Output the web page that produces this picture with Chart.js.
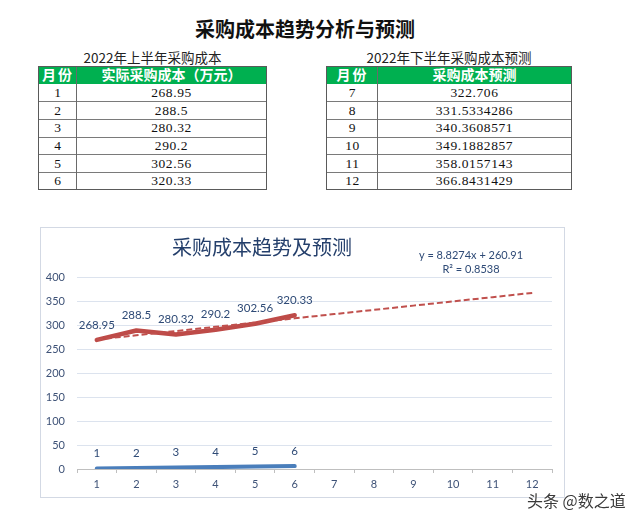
<!DOCTYPE html>
<html>
<head>
<meta charset="utf-8">
<script src="https://cdn.jsdelivr.net/npm/chart.js@4.4.0/dist/chart.umd.min.js"></script>
<style>
  html, body { margin:0; padding:0; background:#fff; }
  body { width:640px; height:523px; position:relative; overflow:hidden; font-family:"Noto Sans CJK SC", sans-serif; }
  .abs { position:absolute; }
  .title { left:0; width:610px; top:15px; height:28px; line-height:28px; text-align:center; font-size:20px; font-weight:700; color:#111; }
  .cap { height:16px; line-height:16px; text-align:center; font-size:13.5px; color:#222; }
  .tbl { box-sizing:border-box; border:1px solid #5a5a5a; }
  .hdr { left:0; right:0; top:0; background:#00B050; }
  .hline { left:0; right:0; height:1px; background:#7a7a7a; }
  .vline { width:1px; top:0; bottom:0; background:#6a6a6a; }
  .cell { text-align:center; font-family:"Liberation Serif", serif; font-size:13.5px; letter-spacing:0.6px; color:#111; }
  .hcell { text-align:center; font-size:14px; font-weight:700; color:#fff; }
  #chartBox { left:40px; top:227px; width:525px; height:271px; box-sizing:border-box; border:1px solid #D3D9E4; }
  .wm { left:527px; top:488px; font-size:16px; color:#3a3a3a; text-shadow:0 0 2px #fff, 0 0 2px #fff; }
</style>
</head>
<body>
<div class="abs title">采购成本趋势分析与预测</div>
<div id="tables"></div>
<div id="chartBox" class="abs"><canvas id="c"></canvas></div>
<div class="abs wm">头条 @数之道</div>
<script>
// ---- data ----
const tableTitle1 = '2022年上半年采购成本';
const tableTitle2 = '2022年下半年采购成本预测';
const tableHeader1 = ['月份', '实际采购成本（万元）'];
const tableHeader2 = ['月份', '采购成本预测'];
const monthsH1 = ['1', '2', '3', '4', '5', '6'];
const actualCost = [268.95, 288.5, 280.32, 290.2, 302.56, 320.33];
const monthsH2 = ['7', '8', '9', '10', '11', '12'];
const forecastCost = ['322.706', '331.5334286', '340.3608571', '349.1882857', '358.0157143', '366.8431429'];

const chartTitle = '采购成本趋势及预测';
const xLabels = ['1', '2', '3', '4', '5', '6', '7', '8', '9', '10', '11', '12'];
const monthSeries = [1, 2, 3, 4, 5, 6];
const trendValues = [269.74, 278.56, 287.39, 296.22, 305.05, 313.87, 322.706, 331.53, 340.36, 349.19, 358.02, 366.84];
const trendEquation = 'y = 8.8274x + 260.91';
const trendR2 = 'R² = 0.8538';

// ---- tables ----
function buildTable(left, width, col1, caption, header, colA, colB) {
  const host = document.getElementById('tables');
  const top = 66, hdrH = 17, rowH = 17.67;
  const cap = document.createElement('div');
  cap.className = 'abs cap';
  cap.style.left = left + 'px'; cap.style.width = width + 'px'; cap.style.top = (top - 17) + 'px';
  cap.textContent = caption;
  host.appendChild(cap);
  const total = hdrH + rowH * colA.length + 1;
  const t = document.createElement('div');
  t.className = 'abs tbl';
  t.style.left = left + 'px'; t.style.top = top + 'px'; t.style.width = width + 'px'; t.style.height = total + 'px';
  const h = document.createElement('div');
  h.className = 'abs hdr'; h.style.height = hdrH + 'px';
  t.appendChild(h);
  const inner = width - 2;
  const mk = (cls, l, w, tp, hh, txt) => {
    const d = document.createElement('div');
    d.className = 'abs ' + cls;
    d.style.left = l + 'px'; d.style.width = w + 'px'; d.style.top = tp + 'px';
    d.style.height = hh + 'px'; d.style.lineHeight = hh + 'px';
    d.textContent = txt; t.appendChild(d);
    return d;
  };
  mk('hcell', 0, col1, -1, hdrH, header[0]).style.letterSpacing = '2px';
  mk('hcell', col1, inner - col1, -1, hdrH, header[1]);
  for (let i = 0; i < colA.length; i++) {
    const y = hdrH + i * rowH;
    if (i > 0) { const l = document.createElement('div'); l.className = 'abs hline'; l.style.top = (y - 0.5) + 'px'; t.appendChild(l); }
    mk('cell', 0, col1, y, rowH, colA[i]);
    mk('cell', col1, inner - col1, y, rowH, String(colB[i]));
  }
  const v = document.createElement('div');
  v.className = 'abs vline'; v.style.left = (col1 - 1) + 'px';
  t.appendChild(v);
  host.appendChild(t);
}
buildTable(38, 229, 38, tableTitle1, tableHeader1, monthsH1, actualCost);
buildTable(326, 246, 51, tableTitle2, tableHeader2, monthsH2, forecastCost);

// ---- chart ----
const labelColor = '#2E4A76';
const extraText = {
  id: 'extraText',
  afterDatasetsDraw(chart) {
    const ctx = chart.ctx;
    ctx.save();
    ctx.textAlign = 'center';
    ctx.textBaseline = 'middle';
    ctx.font = '11.5px Lato, "Open Sans", sans-serif';
    ctx.fillStyle = labelColor;
    [1, 2].forEach(di => {
      const meta = chart.getDatasetMeta(di);
      const ds = chart.data.datasets[di];
      meta.data.forEach((el, i) => {
        if (ds.data[i] == null) return;
        ctx.fillText(String(ds.data[i]), el.x, el.y - 15);
      });
    });
    // chart title
    const a = chart.chartArea;
    ctx.font = '20px "Noto Sans CJK SC", sans-serif';
    ctx.fillStyle = '#243F6B';
    ctx.fillText(chartTitle, a.left + 185, a.top - 30);
    // trendline equation
    ctx.font = '11px Lato, "Open Sans", sans-serif';
    ctx.fillStyle = labelColor;
    ctx.fillText(trendEquation, a.left + 394, a.top - 22);
    ctx.fillText(trendR2, a.left + 394, a.top - 8);
    ctx.restore();
  }
};

new Chart(document.getElementById('c'), {
  type: 'line',
  data: {
    labels: xLabels,
    datasets: [
      { label: '趋势线', data: trendValues, borderColor: '#C0504D', borderWidth: 2, borderDash: [6, 3], pointRadius: 0, fill: false, order: 0 },
      { label: '实际采购成本', data: actualCost, borderColor: '#BE4B48', borderWidth: 4.5, pointRadius: 0, fill: false, borderCapStyle: 'round', borderJoinStyle: 'round', order: 1 },
      { label: '月份', data: monthSeries, borderColor: '#4A7EBB', borderWidth: 4, pointRadius: 0, fill: false, borderCapStyle: 'round', order: 2 }
    ]
  },
  options: {
    responsive: true,
    maintainAspectRatio: false,
    animation: false,
    layout: { padding: { left: 0, right: 12, top: 49, bottom: 0 } },
    plugins: { legend: { display: false }, tooltip: { enabled: false }, title: { display: false } },
    scales: {
      x: {
        type: 'category',
        offset: true,
        grid: { offset: true, drawOnChartArea: false, drawTicks: true, tickLength: 4, color: '#BFBFBF' },
        border: { display: true, color: '#BFBFBF', width: 1 },
        ticks: { color: '#3E5277', font: { family: 'Lato, "Open Sans", sans-serif', size: 11 }, padding: 5, maxRotation: 0 },
        afterFit(s) { s.height = 28; }
      },
      y: {
        min: 0, max: 400,
        ticks: { stepSize: 50, color: '#3E5277', font: { family: 'Lato, "Open Sans", sans-serif', size: 11 }, padding: 12 },
        grid: { color: '#DCE3EE', drawTicks: false, lineWidth: 1 },
        border: { display: false },
        afterFit(s) { s.width = 36; }
      }
    }
  },
  plugins: [extraText]
});
</script>
</body>
</html>
